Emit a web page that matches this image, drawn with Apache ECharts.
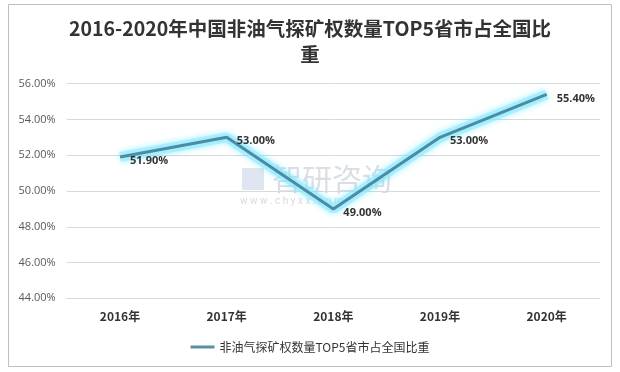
<!DOCTYPE html>
<html><head><meta charset="utf-8">
<script src="https://cdn.jsdelivr.net/npm/echarts@6/dist/echarts.min.js"></script>
<style>html,body{margin:0;padding:0;background:#fff}#c{width:620px;height:372px}</style>
</head><body><div id="c"></div>
<script>
const titleText = '2016-2020年中国非油气探矿权数量TOP5省市占全国比\n重';
const seriesName = '非油气探矿权数量TOP5省市占全国比重';
const categories = ['2016年','2017年','2018年','2019年','2020年'];
const values = [51.9, 53.0, 49.0, 53.0, 55.4];
const yMin = 44, yMax = 56, yStep = 2;

const chart = echarts.init(document.getElementById('c'));
chart.setOption({
  backgroundColor: '#fff',
  animation: false,
  title: {
    text: titleText, left: 'center', top: 11,
    textStyle: {fontFamily: '"Noto Sans CJK SC"', fontSize: 19.5, fontWeight: 'bold', color: '#333', lineHeight: 26}
  },
  graphic: [
    {type: 'rect', shape: {x: 8.5, y: 4.5, width: 603, height: 362}, style: {fill: 'none', stroke: '#bfbfbf', lineWidth: 1}, z: -10},
    {type: 'text', left: 272, top: 164, style: {text: '智研咨询', fontSize: 30, fontFamily: '"Noto Sans CJK SC"', fill: 'rgba(150,160,180,0.35)'}, z: -5},
    {type: 'text', left: 240, top: 196, style: {text: 'w w w . c h y x x . c o m', fontSize: 10, fontFamily: 'Roboto', fill: 'rgba(150,160,180,0.4)'}, z: -5},
    {type: 'rect', shape: {x: 242, y: 168, width: 22, height: 22}, style: {fill: 'rgba(150,170,210,0.3)'}, z: -5}
  ],
  legend: {
    bottom: 14, left: 'center', itemWidth: 24, itemHeight: 3, itemGap: 4,
    icon: 'rect',
    textStyle: {fontFamily: '"Noto Sans CJK SC"', fontSize: 12, color: '#333'},
    data: [{name: seriesName, itemStyle: {color: '#5b8fa8', opacity: 1}}]
  },
  grid: {left: 66.7, right: 20, top: 83.7, bottom: 73.7, containLabel: false},
  xAxis: {
    type: 'category', data: categories, boundaryGap: true,
    axisLine: {lineStyle: {color: '#d9d9d9'}}, axisTick: {show: false},
    axisLabel: {color: '#333', fontWeight: 'bold', fontSize: 12, fontFamily: '"Noto Sans CJK SC"', margin: 12}
  },
  yAxis: {
    type: 'value', min: yMin, max: yMax, interval: yStep,
    axisLine: {show: false}, axisTick: {show: false},
    splitLine: {lineStyle: {color: '#d9d9d9'}},
    axisLabel: {color: '#595959', fontSize: 11, fontFamily: '"Open Sans"', margin: 11,
      formatter: v => v.toFixed(2) + '%'}
  },
  series: [{
    name: 'glow', type: 'line', data: values, symbol: 'none', silent: true,
    lineStyle: {color: 'rgba(140,235,255,0.55)', width: 10, shadowColor: 'rgba(80,225,255,0.9)', shadowBlur: 6},
    z: 1
  }, {
    name: seriesName, type: 'line', data: values, symbol: 'circle', symbolSize: 0, showSymbol: true,
    lineStyle: {color: '#4f8aa3', width: 3},
    itemStyle: {color: '#4f8aa3'},
    z: 2,
    label: {show: true, position: 'right', offset: [0, 4], distance: 10,
      color: '#333', fontWeight: 'bold', fontSize: 11, fontFamily: '"Open Sans"',
      formatter: p => Number(p.value).toFixed(2) + '%'}
  }]
});
</script></body></html>
